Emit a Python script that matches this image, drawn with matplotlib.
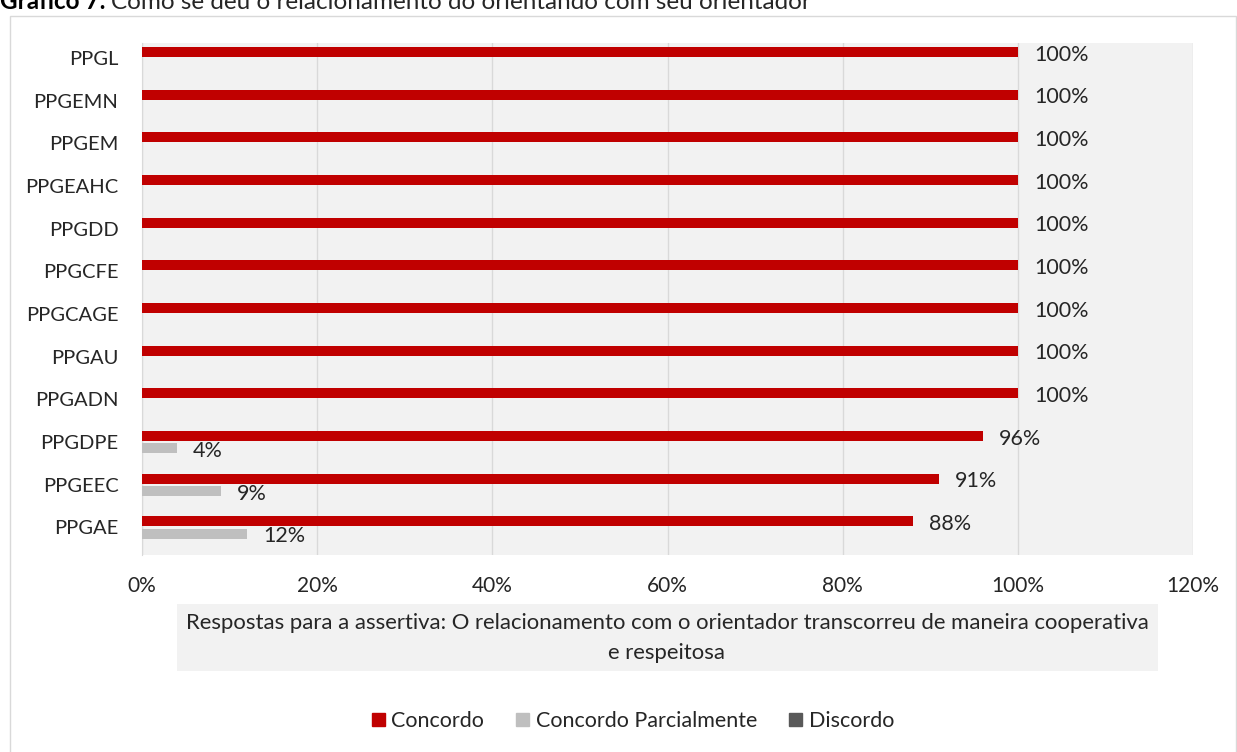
import matplotlib.pyplot as plt
from matplotlib.patches import Rectangle, Patch
import numpy as np

# Dados do gráfico
programas = ['PPGL', 'PPGEMN', 'PPGEM', 'PPGEAHC', 'PPGDD', 'PPGCFE',
             'PPGCAGE', 'PPGAU', 'PPGADN', 'PPGDPE', 'PPGEEC', 'PPGAE']
concordo = [1.00, 1.00, 1.00, 1.00, 1.00, 1.00, 1.00, 1.00, 1.00, 0.96, 0.91, 0.88]
concordo_parcial = [0, 0, 0, 0, 0, 0, 0, 0, 0, 0.04, 0.09, 0.12]
discordo = [0, 0, 0, 0, 0, 0, 0, 0, 0, 0, 0, 0]
rotulos_concordo = ['100%'] * 9 + ['96%', '91%', '88%']
rotulos_parcial = [''] * 9 + ['4%', '9%', '12%']
xticks = [0, 0.2, 0.4, 0.6, 0.8, 1.0, 1.2]
xtick_labels = ['0%', '20%', '40%', '60%', '80%', '100%', '120%']

VERMELHO = '#C00000'
CINZA = '#BFBFBF'
CINZA_ESCURO = '#595959'
FONTE = 'Lato'
COR_TEXTO = '#262626'

W, H = 1237, 752
fig = plt.figure(figsize=(W / 100, H / 100), dpi=100)
fig.patch.set_facecolor('white')

# Moldura externa
fig.patches.append(Rectangle((10 / W, -0.05), (W - 11) / W, 1.05 - 16 / H,
                             transform=fig.transFigure, fill=False,
                             edgecolor='#D9D9D9', linewidth=1))

ax = fig.add_axes([142 / W, 1 - 555 / H, (1193 - 142) / W, (555 - 43) / H])
ax.set_facecolor('#F2F2F2')

n = len(programas)
y = np.arange(n)
h = 0.235
off = 0.29
ax.barh(y - off, concordo, height=h, color=VERMELHO, zorder=3)
ax.barh(y, concordo_parcial, height=h, color=CINZA, zorder=3)
ax.barh(y + off, discordo, height=h, color=CINZA_ESCURO, zorder=3)

# Rótulos de dados
for i in range(n):
    ax.annotate(rotulos_concordo[i], (concordo[i], y[i] - off), xytext=(11.5, -2),
                textcoords='offset points', ha='left', va='center',
                fontsize=15.5, family=FONTE, color=COR_TEXTO, zorder=4)
    if rotulos_parcial[i]:
        ax.annotate(rotulos_parcial[i], (concordo_parcial[i], y[i]), xytext=(11.5, -2),
                    textcoords='offset points', ha='left', va='center',
                    fontsize=15.5, family=FONTE, color=COR_TEXTO, zorder=4)

ax.set_xlim(0, 1.2)
ax.set_ylim(n - 0.5, -0.5)
ax.set_xticks(xticks)
ax.set_xticklabels(xtick_labels, fontsize=15, family=FONTE, color=COR_TEXTO)
ax.set_yticks(y - 0.15)
ax.set_yticklabels(programas, fontsize=14.5, family=FONTE, color=COR_TEXTO)
ax.tick_params(length=0)
ax.tick_params(axis='x', pad=15)
ax.tick_params(axis='y', pad=17)
ax.grid(axis='x', color='#D9D9D9', linewidth=1, zorder=0)
for s in ['top', 'right', 'bottom']:
    ax.spines[s].set_visible(False)
ax.spines['left'].set_color('#D9D9D9')

# Título do eixo em caixa cinza
fig.patches.append(Rectangle((177 / W, 1 - 671 / H), (1158 - 177) / W, (671 - 604) / H,
                             transform=fig.transFigure, facecolor='#F2F2F2',
                             edgecolor='none'))
fig.text(667 / W, 1 - 638 / H,
         'Respostas para a assertiva: O relacionamento com o orientador transcorreu de maneira cooperativa\ne respeitosa',
         ha='center', va='center', fontsize=15.9, family=FONTE, color=COR_TEXTO,
         linespacing=1.62)

# Legenda
handles = [Patch(color=VERMELHO, label='Concordo'),
           Patch(color=CINZA, label='Concordo Parcialmente'),
           Patch(color=CINZA_ESCURO, label='Discordo')]
fig.legend(handles=handles, loc='center', bbox_to_anchor=(633 / W, 1 - 721 / H),
           ncol=3, frameon=False, handlelength=0.6, handleheight=0.6,
           handletextpad=0.3, columnspacing=1.5,
           prop={'family': FONTE, 'size': 15.5}, labelcolor=COR_TEXTO)

# Título (cortado no topo)
t1 = fig.text(0.0, 1 - 9 / H, 'Gráfico 7:', ha='left', va='baseline',
              fontsize=17.5, family=FONTE, fontweight='bold', color='black')
fig.canvas.draw()
bb = t1.get_window_extent()
fig.text(bb.x1 / W + 5 / W, 1 - 9 / H,
         'Como se deu o relacionamento do orientando com seu orientador',
         ha='left', va='baseline', fontsize=17.5, family=FONTE, color=COR_TEXTO)

fig.savefig('out.png', dpi=100)
